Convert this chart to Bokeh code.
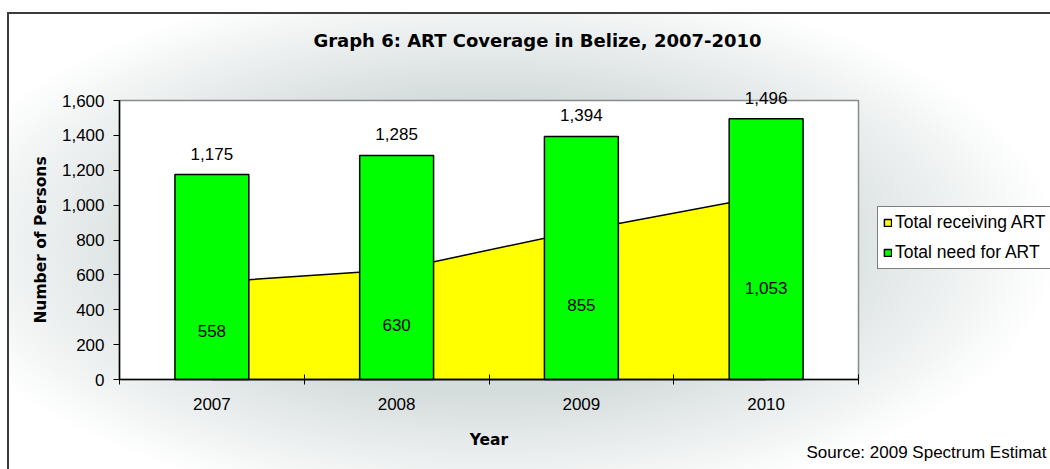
import numpy as np
from bokeh.plotting import figure
from bokeh.models import (ColumnDataSource, Range1d, FixedTicker, NumeralTickFormatter,
                          LabelSet, Label, Legend, LegendItem)
from bokeh.core.properties import value
from bokeh.embed import file_html
from bokeh.resources import INLINE

# ---- data ----
years = ["2007", "2008", "2009", "2010"]
total_need = [1175, 1285, 1394, 1496]
total_receiving = [558, 630, 855, 1053]
y_ticks = [0, 200, 400, 600, 800, 1000, 1200, 1400, 1600]

title_text = "Graph 6: ART Coverage in Belize, 2007-2010"
source_text = "Source: 2009 Spectrum Estimat"
series_names = ["Total receiving ART", "Total need for ART"]
x_title = "Year"
y_title = "Number of Persons"

# ---- layout (pixels) ----
W, H = 1050, 469
PL, PR, PT, PB = 119, 858, 100, 379     # plot-area box

n = len(years)
ymax = y_ticks[-1]
kx = (PR - PL) / n
ky = (PB - PT) / ymax
x0 = -PL / kx
y1 = ymax + PT / ky


def X(px):
    return x0 + px / kx


def Y(py):
    return y1 - py / ky


xs = np.arange(n) + 0.5
need = np.array(total_need, dtype=float)
recv = np.array(total_receiving, dtype=float)

src = ColumnDataSource(dict(
    x=xs, need=need, recv=recv, half=recv / 2,
    need_lbl=[f"{v:,}" for v in total_need],
    recv_lbl=[f"{v:,}" for v in total_receiving],
))

REG = "Liberation Sans"
BOLD = "DejaVu Sans"

p = figure(width=W, height=H, min_border=0,
           min_border_left=0, min_border_right=0, min_border_top=0, min_border_bottom=0,
           x_range=Range1d(x0, n + (W - PR) / kx),
           y_range=Range1d(-(H - PB) / ky, y1),
           output_backend="svg", toolbar_location=None, title=None)
p.border_fill_color = None
p.background_fill_color = None
p.outline_line_color = None
p.grid.visible = False

p.styles = {
    "background":
        "linear-gradient(#3c3c3c,#3c3c3c) 7px 12px / 2px 100% no-repeat, "
        "linear-gradient(#3c3c3c,#3c3c3c) 7px 12px / 100% 2px no-repeat, "
        "linear-gradient(#ffffff,#ffffff) 0px 0px / 100% 12px no-repeat, "
        "linear-gradient(#ffffff,#ffffff) 0px 0px / 7px 100% no-repeat, "
        "radial-gradient(ellipse 570px 270px at 490px 245px, #d5dcdc 0%, #d5dcdc 55%, #ffffff 100%)"
}

# plot area
p.quad(left=0, right=n, bottom=0, top=ymax, fill_color="white",
       line_color="#8a8a8a", line_width=1.5)

# yellow area (receiving) drawn behind the bars
area = p.patch(x=np.concatenate([xs, xs[::-1]]),
               y=np.concatenate([recv, np.zeros(n)]),
               fill_color="#ffff00", line_color="black", line_width=1.5)

bars = p.vbar(x="x", top="need", width=0.4, source=src,
              fill_color="#00ff00", line_color="black", line_width=1.5)

# x axis
xa = p.xaxis[0]
xa.fixed_location = 0
xa.bounds = (0, n)
xa.ticker = FixedTicker(ticks=list(xs), minor_ticks=list(range(n + 1)))
xa.major_label_overrides = {float(x): y for x, y in zip(xs, years)}
xa.major_tick_line_color = None
xa.major_tick_in = 0
xa.major_tick_out = 0
xa.minor_tick_line_color = "black"
xa.minor_tick_in = 5
xa.minor_tick_out = 5
xa.axis_line_color = "black"
xa.axis_line_width = 1.5
xa.major_label_standoff = 13
xa.major_label_text_font = REG
xa.major_label_text_font_size = "17px"
xa.major_label_text_color = "black"
xa.axis_label = x_title
xa.axis_label_text_font = BOLD
xa.axis_label_text_font_style = "bold"
xa.axis_label_text_font_size = "15.5px"
xa.axis_label_text_color = "black"
xa.axis_label_standoff = 18

# y axis
ya = p.yaxis[0]
ya.fixed_location = 0
ya.bounds = (0, ymax)
ya.ticker = FixedTicker(ticks=y_ticks)
ya.formatter = NumeralTickFormatter(format="0,0")
ya.major_tick_in = 0
ya.major_tick_out = 6
ya.major_tick_line_color = "black"
ya.minor_tick_line_color = None
ya.axis_line_color = "black"
ya.axis_line_width = 1.5
ya.major_label_standoff = 9
ya.major_label_text_font = REG
ya.major_label_text_font_size = "17px"
ya.major_label_text_color = "black"
ya.axis_label = y_title
ya.axis_label_text_font = BOLD
ya.axis_label_text_font_style = "bold"
ya.axis_label_text_font_size = "15.5px"
ya.axis_label_text_color = "black"
ya.axis_label_standoff = 9

# data labels
p.add_layout(LabelSet(x="x", y="need", text="need_lbl", source=src,
                      text_align=value("center"), text_baseline=value("alphabetic"),
                      y_offset=15, text_font=value(REG), text_font_size=value("17px"),
                      text_color=value("black")))
p.add_layout(LabelSet(x="x", y="half", text="recv_lbl", source=src,
                      text_align=value("center"), text_baseline=value("middle"),
                      text_font=value(REG), text_font_size=value("17px"),
                      text_color=value("black")))

# title and source note
p.add_layout(Label(x=X(537), y=Y(39.5), text=title_text, text_align="center",
                   text_baseline="middle", text_font=BOLD, text_font_style="bold",
                   text_font_size="18px", text_color="black"))
p.add_layout(Label(x=X(806), y=Y(452), text=source_text, text_align="left",
                   text_baseline="middle", text_font=REG,
                   text_font_size="17px", text_color="black"))

legend = Legend(items=[LegendItem(label=series_names[0], renderers=[area]),
                       LegendItem(label=series_names[1], renderers=[bars])],
                location=(877, H - 269), orientation="vertical",
                label_text_font=REG, label_text_font_size="17.5px",
                label_text_color="black",
                glyph_width=9, glyph_height=9, label_standoff=3,
                padding=5, spacing=9, margin=0, label_height=20,
                border_line_color="black", border_line_width=1,
                background_fill_color="white", background_fill_alpha=1)
p.add_layout(legend)

open("out.html", "w").write(file_html(p, INLINE))
